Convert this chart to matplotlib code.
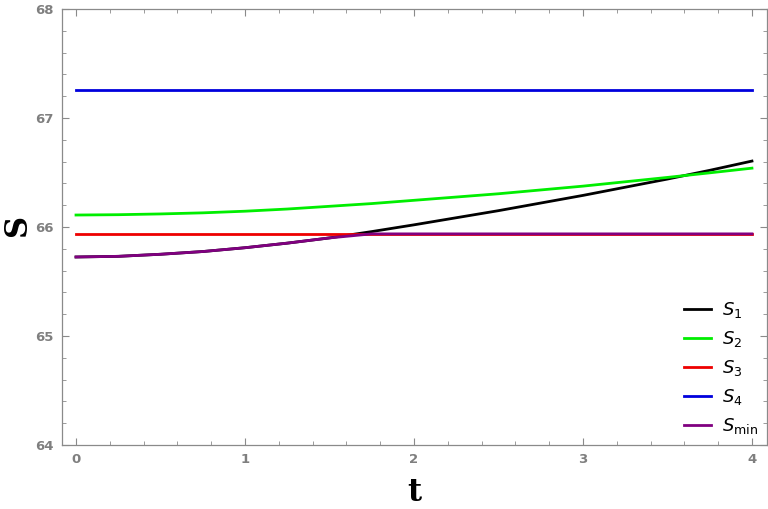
import numpy as np
import matplotlib.pyplot as plt
from matplotlib.ticker import MultipleLocator

# values
t = [0, 0.25, 0.5, 0.75, 1, 1.25, 1.5, 1.75, 2, 2.25, 2.5, 2.75, 3, 3.25, 3.5, 3.75, 4]
s1 = [65.725, 65.731, 65.75, 65.775, 65.81, 65.852, 65.90, 65.958, 66.02,
      66.085, 66.15, 66.22, 66.29, 66.365, 66.44, 66.52, 66.605]
s2 = [66.11, 66.113, 66.12, 66.13, 66.145, 66.165, 66.19, 66.215, 66.245,
      66.275, 66.305, 66.34, 66.375, 66.415, 66.455, 66.497, 66.54]
s3 = [65.937] * len(t)
s4 = [67.258] * len(t)
smin = np.minimum(s1, s3)

labels = [r'$S_1$', r'$S_2$', r'$S_3$', r'$S_4$', r'$S_{\mathrm{min}}$']
colors = ['black', '#00ee00', '#ee0000', '#0000dd', '#800080']

plt.rcParams['mathtext.fontset'] = 'dejavusans'

fig = plt.figure(figsize=(7.68, 5.09), dpi=100)
ax = fig.add_axes([0.0807, 0.1257, 0.918, 0.8566])

for y, lab, c in zip([s1, s2, s3, s4, smin], labels, colors):
    ax.plot(t, y, color=c, lw=2.0, label=lab)

ax.set_xlim(-0.083, 4.089)
ax.set_ylim(64, 68)
ax.xaxis.set_major_locator(MultipleLocator(1))
ax.xaxis.set_minor_locator(MultipleLocator(0.2))
ax.yaxis.set_major_locator(MultipleLocator(1))
ax.yaxis.set_minor_locator(MultipleLocator(0.2))

grey = '#7f7f7f'
for sp in ax.spines.values():
    sp.set_color('#8a8a8a')
    sp.set_linewidth(0.9)
ax.tick_params(which='both', direction='in', top=True, right=True,
               color='#8a8a8a', labelcolor=grey, labelsize=9.5)
ax.tick_params(which='major', length=5, width=0.8, pad=6)
ax.tick_params(which='minor', length=3, width=0.6)
for lab in ax.get_xticklabels() + ax.get_yticklabels():
    lab.set_fontweight('bold')

ax.set_xlabel('t', family='serif', fontweight='bold', fontsize=22, labelpad=8)
fig.text(18 / 768, 1 - 225 / 509, 'S', family='serif', fontweight='bold',
         fontsize=22, rotation=90, ha='center', va='center')

ax.legend(loc='lower right', bbox_to_anchor=(1.0, 0.0), borderaxespad=0.1,
          frameon=False, fontsize=13, handlelength=1.5, labelspacing=0.5,
          handletextpad=0.6)

fig.savefig('out.png', dpi=100)
